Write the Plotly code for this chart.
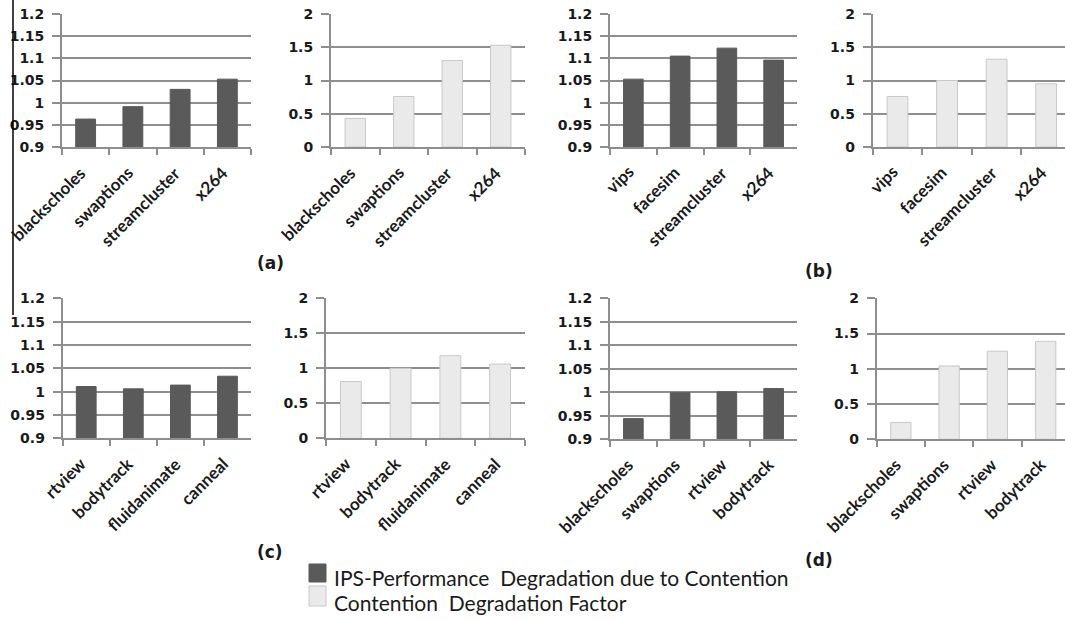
import plotly.graph_objects as go

W, H = 1065, 621

# ---- data ----
cats_a = ["blackscholes", "swaptions", "streamcluster", "x264"]
ips_a = [0.963, 0.991, 1.030, 1.053]
cdf_a = [0.43, 0.76, 1.30, 1.53]

cats_b = ["vips", "facesim", "streamcluster", "x264"]
ips_b = [1.053, 1.105, 1.123, 1.096]
cdf_b = [0.76, 1.00, 1.32, 0.95]

cats_c = ["rtview", "bodytrack", "fluidanimate", "canneal"]
ips_c = [1.011, 1.006, 1.014, 1.033]
cdf_c = [0.81, 1.00, 1.18, 1.06]

cats_d = ["blackscholes", "swaptions", "rtview", "bodytrack"]
ips_d = [0.944, 0.999, 1.001, 1.008]
cdf_d = [0.24, 1.04, 1.25, 1.39]

ips_ticks = [0.9, 0.95, 1, 1.05, 1.1, 1.15, 1.2]
ips_ticktext = ["0.9", "0.95", "1", "1.05", "1.1", "1.15", "1.2"]
cdf_ticks = [0, 0.5, 1, 1.5, 2]
cdf_ticktext = ["0", "0.5", "1", "1.5", "2"]

panel_labels = ["(a)", "(b)", "(c)", "(d)"]
legend_labels = ["IPS-Performance  Degradation due to Contention",
                 "Contention  Degradation Factor"]

DARK = "#5a5a5a"
LIGHT = "#eaeaea"
LIGHT_EDGE = "#c8c8c8"
GRID = "#8e8e8e"
TXT = "#1a1a1a"

def px_x(x):
    return x / W

def px_y(y):
    return 1 - y / H

# panel geometry (pixels): x0, x1, ytop, ybot, xmax-range
panels = [
    (cats_a, ips_a, "ips", (62, 251, 14, 147, 3.5)),
    (cats_a, cdf_a, "cdf", (331, 525, 14, 147, 3.5)),
    (cats_b, ips_b, "ips", (610, 797, 14, 147, 3.5)),
    (cats_b, cdf_b, "cdf", (872.7, 1065, 14, 147, 3.38)),
    (cats_c, ips_c, "ips", (62.7, 251, 298.3, 438.3, 3.5)),
    (cats_c, cdf_c, "cdf", (326, 525, 298.3, 438.3, 3.5)),
    (cats_d, ips_d, "ips", (610, 797, 298.3, 439.3, 3.5)),
    (cats_d, cdf_d, "cdf", (876.7, 1065, 298.3, 439.3, 3.4)),
]

fig = go.Figure()
layout = {}
annotations = []
for i, (cats, vals, kind, (x0, x1, yt, yb, xr)) in enumerate(panels):
    n = i + 1
    xa = "x" if n == 1 else f"x{n}"
    ya = "y" if n == 1 else f"y{n}"
    if kind == "ips":
        color, edge = DARK, DARK
        base = 0.9
        yrange = [0.9, 1.2]
        tv, tt = ips_ticks, ips_ticktext
        name = legend_labels[0]
    else:
        color, edge = LIGHT, LIGHT_EDGE
        base = 0
        yrange = [0, 2]
        tv, tt = cdf_ticks, cdf_ticktext
        name = legend_labels[1]
    fig.add_trace(go.Bar(
        x=cats, y=[v - base for v in vals], base=base,
        marker=dict(color=color, line=dict(color=edge, width=1)),
        xaxis=xa, yaxis=ya, name=name, showlegend=False,
    ))
    layout[f"xaxis{'' if n == 1 else n}"] = dict(
        domain=[px_x(x0), px_x(x1)], anchor=ya,
        type="category", range=[-0.5, xr],
        showline=True, linecolor=GRID, linewidth=2,
        ticks="outside", tickson="boundaries", ticklen=6,
        tickcolor=GRID, tickwidth=1.5,
        showticklabels=False, showgrid=False, automargin=False,
    )
    layout[f"yaxis{'' if n == 1 else n}"] = dict(
        domain=[px_y(yb), px_y(yt)], anchor=xa,
        range=yrange, tickvals=tv, ticktext=tt,
        showline=True, linecolor=GRID, linewidth=2,
        ticks="outside", ticklen=8, tickcolor=GRID, tickwidth=1.5,
        showgrid=True, gridcolor=GRID, gridwidth=2, zeroline=False,
        tickfont=dict(family="DejaVu Sans", size=14, color=TXT, weight="bold"),
        ticklabelstandoff=5, automargin=False,
    )
    # rotated category labels placed below the axis
    for c in cats:
        annotations.append(dict(
            text=c, x=c, xref=xa, y=px_y(yb), yref="paper",
            xshift=7, yshift=-12, textangle=-45,
            xanchor="right", yanchor="top", showarrow=False,
            font=dict(family="Lato", size=17, color=TXT, weight="bold"),
        ))

fig.update_layout(**layout)

for lbl, (cx, cy) in zip(panel_labels, [(270, 263), (819, 271), (270, 552), (819, 560)]):
    annotations.append(dict(
        text=lbl, x=px_x(cx), y=px_y(cy), xref="paper", yref="paper",
        showarrow=False, xanchor="center", yanchor="middle",
        font=dict(family="DejaVu Sans", size=17, color=TXT, weight="bold"),
    ))
for lbl, cy in zip(legend_labels, [577, 602]):
    annotations.append(dict(
        text=lbl, x=px_x(332), y=px_y(cy), xref="paper", yref="paper",
        showarrow=False, xanchor="left", yanchor="middle",
        font=dict(family="Lato", size=21, color=TXT),
    ))

shapes = [
    dict(type="rect", xref="paper", yref="paper",
         x0=px_x(309), x1=px_x(326), y0=px_y(582), y1=px_y(564),
         fillcolor=DARK, line=dict(color=DARK, width=1)),
    dict(type="rect", xref="paper", yref="paper",
         x0=px_x(309), x1=px_x(326), y0=px_y(606), y1=px_y(586),
         fillcolor=LIGHT, line=dict(color=LIGHT_EDGE, width=1)),
    dict(type="line", xref="paper", yref="paper",
         x0=px_x(13), x1=px_x(13), y0=px_y(0), y1=px_y(315),
         line=dict(color="black", width=1.5)),
]

fig.update_layout(
    width=W, height=H,
    margin=dict(l=0, r=0, t=0, b=0, autoexpand=False),
    paper_bgcolor="white", plot_bgcolor="white",
    bargap=0.58, showlegend=False,
    annotations=annotations, shapes=shapes,
)

fig.write_html("out.html")
